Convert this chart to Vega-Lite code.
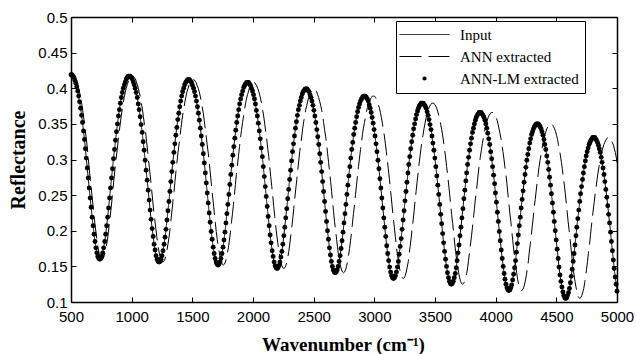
{
"$schema": "https://vega.github.io/schema/vega-lite/v6.json",
"width": 546,
"height": 285,
"autosize": {"type": "none"},
"padding": {"left": 71, "top": 17, "right": 19, "bottom": 52},
"background": "white",
"config": {"view": {"stroke": null}, "font": "Liberation Sans"},
"data": {"values": [
{"w":500,"r":0.419,"wa":513},{"w":508,"r":0.419,"wa":521},{"w":516,"r":0.417,"wa":529},{"w":524,"r":0.415,"wa":537},{"w":532,"r":0.411,"wa":546},{"w":540,"r":0.407,"wa":554},{"w":547,"r":0.402,"wa":561},{"w":555,"r":0.396,"wa":569},{"w":563,"r":0.389,"wa":577},{"w":571,"r":0.381,"wa":586},{"w":579,"r":0.372,"wa":594},{"w":587,"r":0.362,"wa":602},{"w":595,"r":0.352,"wa":610},{"w":603,"r":0.340,"wa":618},{"w":611,"r":0.328,"wa":627},{"w":619,"r":0.315,"wa":635},{"w":626,"r":0.302,"wa":642},{"w":634,"r":0.288,"wa":650},{"w":642,"r":0.274,"wa":658},{"w":650,"r":0.260,"wa":667},{"w":658,"r":0.246,"wa":675},{"w":666,"r":0.233,"wa":683},{"w":674,"r":0.219,"wa":691},{"w":682,"r":0.207,"wa":699},{"w":690,"r":0.195,"wa":708},{"w":698,"r":0.185,"wa":716},{"w":705,"r":0.176,"wa":723},{"w":713,"r":0.169,"wa":731},{"w":721,"r":0.164,"wa":739},{"w":729,"r":0.161,"wa":748},
{"w":737,"r":0.160,"wa":756},{"w":745,"r":0.161,"wa":764},{"w":753,"r":0.164,"wa":772},{"w":761,"r":0.169,"wa":780},{"w":769,"r":0.176,"wa":789},{"w":778,"r":0.185,"wa":798},{"w":786,"r":0.195,"wa":806},{"w":794,"r":0.207,"wa":814},{"w":802,"r":0.219,"wa":822},{"w":810,"r":0.232,"wa":831},{"w":818,"r":0.246,"wa":839},{"w":826,"r":0.260,"wa":847},{"w":834,"r":0.274,"wa":855},{"w":842,"r":0.287,"wa":863},{"w":850,"r":0.301,"wa":872},{"w":859,"r":0.314,"wa":881},{"w":867,"r":0.327,"wa":889},{"w":875,"r":0.339,"wa":897},{"w":883,"r":0.350,"wa":906},{"w":891,"r":0.361,"wa":914},{"w":899,"r":0.370,"wa":922},{"w":907,"r":0.379,"wa":930},{"w":915,"r":0.387,"wa":938},{"w":923,"r":0.394,"wa":947},{"w":931,"r":0.400,"wa":955},{"w":940,"r":0.405,"wa":964},{"w":948,"r":0.409,"wa":972},{"w":956,"r":0.413,"wa":980},{"w":964,"r":0.415,"wa":989},{"w":972,"r":0.417,"wa":997},
{"w":980,"r":0.417,"wa":1005},{"w":988,"r":0.417,"wa":1013},{"w":996,"r":0.415,"wa":1021},{"w":1005,"r":0.413,"wa":1031},{"w":1013,"r":0.409,"wa":1039},{"w":1021,"r":0.405,"wa":1047},{"w":1029,"r":0.400,"wa":1055},{"w":1037,"r":0.394,"wa":1063},{"w":1046,"r":0.387,"wa":1073},{"w":1054,"r":0.378,"wa":1081},{"w":1062,"r":0.370,"wa":1089},{"w":1070,"r":0.360,"wa":1097},{"w":1078,"r":0.349,"wa":1105},{"w":1087,"r":0.338,"wa":1115},{"w":1095,"r":0.325,"wa":1123},{"w":1103,"r":0.313,"wa":1131},{"w":1111,"r":0.299,"wa":1139},{"w":1119,"r":0.285,"wa":1148},{"w":1128,"r":0.271,"wa":1157},{"w":1136,"r":0.257,"wa":1165},{"w":1144,"r":0.243,"wa":1173},{"w":1152,"r":0.229,"wa":1181},{"w":1160,"r":0.216,"wa":1190},{"w":1169,"r":0.203,"wa":1199},{"w":1177,"r":0.192,"wa":1207},{"w":1185,"r":0.181,"wa":1215},{"w":1193,"r":0.173,"wa":1223},{"w":1201,"r":0.165,"wa":1232},{"w":1210,"r":0.160,"wa":1241},{"w":1218,"r":0.157,"wa":1249},
{"w":1226,"r":0.156,"wa":1257},{"w":1234,"r":0.157,"wa":1265},{"w":1242,"r":0.160,"wa":1274},{"w":1250,"r":0.165,"wa":1282},{"w":1258,"r":0.172,"wa":1290},{"w":1267,"r":0.181,"wa":1299},{"w":1275,"r":0.191,"wa":1308},{"w":1283,"r":0.202,"wa":1316},{"w":1291,"r":0.215,"wa":1324},{"w":1299,"r":0.228,"wa":1332},{"w":1307,"r":0.241,"wa":1340},{"w":1315,"r":0.255,"wa":1349},{"w":1323,"r":0.269,"wa":1357},{"w":1331,"r":0.283,"wa":1365},{"w":1339,"r":0.296,"wa":1373},{"w":1348,"r":0.310,"wa":1382},{"w":1356,"r":0.322,"wa":1391},{"w":1364,"r":0.334,"wa":1399},{"w":1372,"r":0.345,"wa":1407},{"w":1380,"r":0.356,"wa":1415},{"w":1388,"r":0.365,"wa":1423},{"w":1396,"r":0.374,"wa":1432},{"w":1404,"r":0.382,"wa":1440},{"w":1412,"r":0.389,"wa":1448},{"w":1420,"r":0.395,"wa":1456},{"w":1429,"r":0.400,"wa":1465},{"w":1437,"r":0.405,"wa":1474},{"w":1445,"r":0.408,"wa":1482},{"w":1453,"r":0.410,"wa":1490},{"w":1461,"r":0.412,"wa":1498},
{"w":1469,"r":0.412,"wa":1506},{"w":1477,"r":0.412,"wa":1515},{"w":1485,"r":0.410,"wa":1523},{"w":1493,"r":0.408,"wa":1531},{"w":1501,"r":0.404,"wa":1539},{"w":1510,"r":0.400,"wa":1549},{"w":1518,"r":0.395,"wa":1557},{"w":1526,"r":0.389,"wa":1565},{"w":1534,"r":0.382,"wa":1573},{"w":1542,"r":0.374,"wa":1581},{"w":1550,"r":0.365,"wa":1590},{"w":1558,"r":0.355,"wa":1598},{"w":1566,"r":0.344,"wa":1606},{"w":1574,"r":0.333,"wa":1614},{"w":1582,"r":0.321,"wa":1622},{"w":1591,"r":0.308,"wa":1632},{"w":1599,"r":0.295,"wa":1640},{"w":1607,"r":0.281,"wa":1648},{"w":1615,"r":0.267,"wa":1656},{"w":1623,"r":0.253,"wa":1664},{"w":1631,"r":0.239,"wa":1673},{"w":1639,"r":0.225,"wa":1681},{"w":1647,"r":0.212,"wa":1689},{"w":1655,"r":0.199,"wa":1697},{"w":1663,"r":0.188,"wa":1705},{"w":1672,"r":0.177,"wa":1715},{"w":1680,"r":0.168,"wa":1723},{"w":1688,"r":0.161,"wa":1731},{"w":1696,"r":0.156,"wa":1739},{"w":1704,"r":0.153,"wa":1747},
{"w":1712,"r":0.152,"wa":1756},{"w":1720,"r":0.153,"wa":1764},{"w":1728,"r":0.156,"wa":1772},{"w":1736,"r":0.161,"wa":1780},{"w":1744,"r":0.168,"wa":1788},{"w":1753,"r":0.177,"wa":1798},{"w":1761,"r":0.187,"wa":1806},{"w":1769,"r":0.198,"wa":1814},{"w":1777,"r":0.211,"wa":1822},{"w":1785,"r":0.224,"wa":1831},{"w":1793,"r":0.237,"wa":1839},{"w":1801,"r":0.251,"wa":1847},{"w":1809,"r":0.265,"wa":1855},{"w":1817,"r":0.279,"wa":1863},{"w":1825,"r":0.292,"wa":1872},{"w":1834,"r":0.306,"wa":1881},{"w":1842,"r":0.318,"wa":1889},{"w":1850,"r":0.330,"wa":1897},{"w":1858,"r":0.341,"wa":1905},{"w":1866,"r":0.352,"wa":1914},{"w":1874,"r":0.361,"wa":1922},{"w":1882,"r":0.370,"wa":1930},{"w":1890,"r":0.378,"wa":1938},{"w":1898,"r":0.385,"wa":1946},{"w":1906,"r":0.391,"wa":1955},{"w":1915,"r":0.396,"wa":1964},{"w":1923,"r":0.401,"wa":1972},{"w":1931,"r":0.404,"wa":1980},{"w":1939,"r":0.406,"wa":1988},{"w":1947,"r":0.408,"wa":1997},
{"w":1955,"r":0.408,"wa":2005},{"w":1963,"r":0.408,"wa":2013},{"w":1971,"r":0.406,"wa":2021},{"w":1979,"r":0.404,"wa":2029},{"w":1987,"r":0.400,"wa":2038},{"w":1996,"r":0.396,"wa":2047},{"w":2004,"r":0.391,"wa":2055},{"w":2012,"r":0.385,"wa":2063},{"w":2020,"r":0.378,"wa":2072},{"w":2028,"r":0.369,"wa":2080},{"w":2036,"r":0.361,"wa":2088},{"w":2044,"r":0.351,"wa":2096},{"w":2052,"r":0.340,"wa":2104},{"w":2060,"r":0.329,"wa":2113},{"w":2068,"r":0.316,"wa":2121},{"w":2077,"r":0.304,"wa":2130},{"w":2085,"r":0.290,"wa":2138},{"w":2093,"r":0.276,"wa":2146},{"w":2101,"r":0.262,"wa":2155},{"w":2109,"r":0.248,"wa":2163},{"w":2117,"r":0.234,"wa":2171},{"w":2125,"r":0.220,"wa":2179},{"w":2133,"r":0.207,"wa":2187},{"w":2141,"r":0.194,"wa":2196},{"w":2149,"r":0.183,"wa":2204},{"w":2158,"r":0.172,"wa":2213},{"w":2166,"r":0.164,"wa":2221},{"w":2174,"r":0.156,"wa":2229},{"w":2182,"r":0.151,"wa":2238},{"w":2190,"r":0.148,"wa":2246},
{"w":2198,"r":0.147,"wa":2254},{"w":2206,"r":0.148,"wa":2262},{"w":2214,"r":0.151,"wa":2270},{"w":2222,"r":0.156,"wa":2279},{"w":2230,"r":0.163,"wa":2287},{"w":2238,"r":0.171,"wa":2295},{"w":2246,"r":0.181,"wa":2303},{"w":2254,"r":0.193,"wa":2311},{"w":2262,"r":0.205,"wa":2320},{"w":2270,"r":0.218,"wa":2328},{"w":2278,"r":0.231,"wa":2336},{"w":2286,"r":0.245,"wa":2344},{"w":2294,"r":0.258,"wa":2352},{"w":2302,"r":0.272,"wa":2361},{"w":2310,"r":0.285,"wa":2369},{"w":2318,"r":0.298,"wa":2377},{"w":2326,"r":0.311,"wa":2385},{"w":2334,"r":0.322,"wa":2394},{"w":2342,"r":0.333,"wa":2402},{"w":2350,"r":0.344,"wa":2410},{"w":2358,"r":0.353,"wa":2418},{"w":2366,"r":0.362,"wa":2426},{"w":2374,"r":0.370,"wa":2435},{"w":2382,"r":0.376,"wa":2443},{"w":2390,"r":0.382,"wa":2451},{"w":2398,"r":0.387,"wa":2459},{"w":2406,"r":0.392,"wa":2467},{"w":2414,"r":0.395,"wa":2476},{"w":2422,"r":0.397,"wa":2484},{"w":2430,"r":0.399,"wa":2492},
{"w":2438,"r":0.399,"wa":2500},{"w":2446,"r":0.399,"wa":2508},{"w":2454,"r":0.397,"wa":2517},{"w":2462,"r":0.395,"wa":2525},{"w":2470,"r":0.391,"wa":2533},{"w":2478,"r":0.387,"wa":2541},{"w":2486,"r":0.382,"wa":2549},{"w":2494,"r":0.376,"wa":2558},{"w":2502,"r":0.369,"wa":2566},{"w":2510,"r":0.361,"wa":2574},{"w":2518,"r":0.352,"wa":2582},{"w":2526,"r":0.342,"wa":2590},{"w":2534,"r":0.332,"wa":2599},{"w":2542,"r":0.321,"wa":2607},{"w":2550,"r":0.308,"wa":2615},{"w":2558,"r":0.296,"wa":2623},{"w":2566,"r":0.283,"wa":2631},{"w":2574,"r":0.269,"wa":2640},{"w":2582,"r":0.255,"wa":2648},{"w":2590,"r":0.241,"wa":2656},{"w":2598,"r":0.227,"wa":2664},{"w":2606,"r":0.213,"wa":2672},{"w":2614,"r":0.200,"wa":2681},{"w":2622,"r":0.188,"wa":2689},{"w":2630,"r":0.176,"wa":2697},{"w":2638,"r":0.166,"wa":2705},{"w":2646,"r":0.157,"wa":2713},{"w":2654,"r":0.150,"wa":2722},{"w":2662,"r":0.145,"wa":2730},{"w":2670,"r":0.142,"wa":2738},
{"w":2678,"r":0.141,"wa":2746},{"w":2686,"r":0.142,"wa":2754},{"w":2694,"r":0.145,"wa":2763},{"w":2702,"r":0.150,"wa":2771},{"w":2710,"r":0.157,"wa":2779},{"w":2718,"r":0.165,"wa":2787},{"w":2726,"r":0.175,"wa":2796},{"w":2734,"r":0.186,"wa":2804},{"w":2742,"r":0.198,"wa":2812},{"w":2750,"r":0.211,"wa":2820},{"w":2758,"r":0.224,"wa":2828},{"w":2766,"r":0.237,"wa":2837},{"w":2774,"r":0.251,"wa":2845},{"w":2782,"r":0.264,"wa":2853},{"w":2790,"r":0.277,"wa":2861},{"w":2798,"r":0.290,"wa":2869},{"w":2806,"r":0.302,"wa":2878},{"w":2814,"r":0.314,"wa":2886},{"w":2822,"r":0.324,"wa":2894},{"w":2830,"r":0.335,"wa":2902},{"w":2838,"r":0.344,"wa":2910},{"w":2846,"r":0.352,"wa":2919},{"w":2854,"r":0.360,"wa":2927},{"w":2862,"r":0.367,"wa":2935},{"w":2870,"r":0.373,"wa":2943},{"w":2878,"r":0.378,"wa":2951},{"w":2886,"r":0.382,"wa":2960},{"w":2894,"r":0.385,"wa":2968},{"w":2902,"r":0.387,"wa":2976},{"w":2910,"r":0.389,"wa":2984},
{"w":2918,"r":0.389,"wa":2992},{"w":2926,"r":0.389,"wa":3001},{"w":2934,"r":0.387,"wa":3009},{"w":2942,"r":0.385,"wa":3017},{"w":2950,"r":0.382,"wa":3025},{"w":2958,"r":0.377,"wa":3033},{"w":2966,"r":0.372,"wa":3042},{"w":2974,"r":0.366,"wa":3050},{"w":2982,"r":0.359,"wa":3058},{"w":2990,"r":0.351,"wa":3066},{"w":2998,"r":0.342,"wa":3074},{"w":3006,"r":0.333,"wa":3083},{"w":3014,"r":0.322,"wa":3091},{"w":3022,"r":0.311,"wa":3099},{"w":3030,"r":0.299,"wa":3107},{"w":3038,"r":0.287,"wa":3115},{"w":3046,"r":0.273,"wa":3124},{"w":3054,"r":0.260,"wa":3132},{"w":3062,"r":0.246,"wa":3140},{"w":3070,"r":0.232,"wa":3148},{"w":3078,"r":0.218,"wa":3156},{"w":3086,"r":0.205,"wa":3165},{"w":3094,"r":0.192,"wa":3173},{"w":3102,"r":0.179,"wa":3181},{"w":3110,"r":0.168,"wa":3189},{"w":3118,"r":0.158,"wa":3198},{"w":3126,"r":0.149,"wa":3206},{"w":3134,"r":0.142,"wa":3214},{"w":3142,"r":0.137,"wa":3222},{"w":3150,"r":0.134,"wa":3230},
{"w":3158,"r":0.133,"wa":3239},{"w":3166,"r":0.134,"wa":3247},{"w":3174,"r":0.137,"wa":3255},{"w":3182,"r":0.142,"wa":3263},{"w":3190,"r":0.149,"wa":3271},{"w":3198,"r":0.157,"wa":3280},{"w":3205,"r":0.167,"wa":3287},{"w":3213,"r":0.178,"wa":3295},{"w":3221,"r":0.189,"wa":3303},{"w":3229,"r":0.202,"wa":3311},{"w":3237,"r":0.215,"wa":3320},{"w":3245,"r":0.228,"wa":3328},{"w":3253,"r":0.242,"wa":3336},{"w":3261,"r":0.255,"wa":3344},{"w":3269,"r":0.268,"wa":3352},{"w":3277,"r":0.281,"wa":3361},{"w":3284,"r":0.293,"wa":3368},{"w":3292,"r":0.304,"wa":3376},{"w":3300,"r":0.315,"wa":3384},{"w":3308,"r":0.325,"wa":3392},{"w":3316,"r":0.334,"wa":3401},{"w":3324,"r":0.343,"wa":3409},{"w":3332,"r":0.350,"wa":3417},{"w":3340,"r":0.357,"wa":3425},{"w":3348,"r":0.363,"wa":3433},{"w":3356,"r":0.368,"wa":3442},{"w":3363,"r":0.372,"wa":3449},{"w":3371,"r":0.375,"wa":3457},{"w":3379,"r":0.377,"wa":3465},{"w":3387,"r":0.379,"wa":3473},
{"w":3395,"r":0.379,"wa":3482},{"w":3403,"r":0.379,"wa":3490},{"w":3411,"r":0.377,"wa":3498},{"w":3419,"r":0.375,"wa":3506},{"w":3427,"r":0.372,"wa":3514},{"w":3435,"r":0.367,"wa":3523},{"w":3443,"r":0.362,"wa":3531},{"w":3451,"r":0.356,"wa":3539},{"w":3459,"r":0.349,"wa":3547},{"w":3467,"r":0.342,"wa":3555},{"w":3475,"r":0.333,"wa":3564},{"w":3483,"r":0.323,"wa":3572},{"w":3491,"r":0.313,"wa":3580},{"w":3499,"r":0.302,"wa":3588},{"w":3507,"r":0.290,"wa":3596},{"w":3515,"r":0.277,"wa":3605},{"w":3523,"r":0.264,"wa":3613},{"w":3531,"r":0.251,"wa":3621},{"w":3539,"r":0.237,"wa":3629},{"w":3547,"r":0.223,"wa":3637},{"w":3555,"r":0.210,"wa":3646},{"w":3563,"r":0.196,"wa":3654},{"w":3571,"r":0.183,"wa":3662},{"w":3579,"r":0.171,"wa":3670},{"w":3587,"r":0.160,"wa":3678},{"w":3595,"r":0.150,"wa":3687},{"w":3603,"r":0.141,"wa":3695},{"w":3611,"r":0.134,"wa":3703},{"w":3619,"r":0.129,"wa":3711},{"w":3627,"r":0.126,"wa":3719},
{"w":3635,"r":0.125,"wa":3728},{"w":3643,"r":0.126,"wa":3736},{"w":3651,"r":0.129,"wa":3744},{"w":3659,"r":0.134,"wa":3752},{"w":3667,"r":0.140,"wa":3761},{"w":3675,"r":0.148,"wa":3769},{"w":3682,"r":0.158,"wa":3776},{"w":3690,"r":0.169,"wa":3784},{"w":3698,"r":0.180,"wa":3792},{"w":3706,"r":0.193,"wa":3801},{"w":3714,"r":0.205,"wa":3809},{"w":3722,"r":0.218,"wa":3817},{"w":3730,"r":0.231,"wa":3825},{"w":3738,"r":0.245,"wa":3833},{"w":3746,"r":0.257,"wa":3842},{"w":3754,"r":0.270,"wa":3850},{"w":3761,"r":0.281,"wa":3857},{"w":3769,"r":0.293,"wa":3865},{"w":3777,"r":0.303,"wa":3873},{"w":3785,"r":0.313,"wa":3882},{"w":3793,"r":0.322,"wa":3890},{"w":3801,"r":0.330,"wa":3898},{"w":3809,"r":0.338,"wa":3906},{"w":3817,"r":0.344,"wa":3914},{"w":3825,"r":0.350,"wa":3923},{"w":3833,"r":0.355,"wa":3931},{"w":3840,"r":0.359,"wa":3938},{"w":3848,"r":0.362,"wa":3946},{"w":3856,"r":0.364,"wa":3954},{"w":3864,"r":0.366,"wa":3963},
{"w":3872,"r":0.366,"wa":3971},{"w":3880,"r":0.366,"wa":3979},{"w":3888,"r":0.364,"wa":3987},{"w":3896,"r":0.362,"wa":3995},{"w":3904,"r":0.359,"wa":4004},{"w":3912,"r":0.355,"wa":4012},{"w":3919,"r":0.350,"wa":4019},{"w":3927,"r":0.344,"wa":4027},{"w":3935,"r":0.337,"wa":4035},{"w":3943,"r":0.329,"wa":4044},{"w":3951,"r":0.321,"wa":4052},{"w":3959,"r":0.311,"wa":4060},{"w":3967,"r":0.301,"wa":4068},{"w":3975,"r":0.290,"wa":4076},{"w":3983,"r":0.278,"wa":4085},{"w":3991,"r":0.266,"wa":4093},{"w":3998,"r":0.253,"wa":4100},{"w":4006,"r":0.240,"wa":4108},{"w":4014,"r":0.226,"wa":4116},{"w":4022,"r":0.213,"wa":4125},{"w":4030,"r":0.199,"wa":4133},{"w":4038,"r":0.186,"wa":4141},{"w":4046,"r":0.173,"wa":4149},{"w":4054,"r":0.161,"wa":4157},{"w":4062,"r":0.150,"wa":4166},{"w":4070,"r":0.140,"wa":4174},{"w":4077,"r":0.132,"wa":4181},{"w":4085,"r":0.125,"wa":4189},{"w":4093,"r":0.120,"wa":4197},{"w":4101,"r":0.117,"wa":4206},
{"w":4109,"r":0.116,"wa":4214},{"w":4117,"r":0.117,"wa":4222},{"w":4125,"r":0.120,"wa":4230},{"w":4132,"r":0.124,"wa":4237},{"w":4140,"r":0.131,"wa":4246},{"w":4148,"r":0.139,"wa":4254},{"w":4156,"r":0.148,"wa":4262},{"w":4164,"r":0.158,"wa":4270},{"w":4171,"r":0.170,"wa":4277},{"w":4179,"r":0.182,"wa":4286},{"w":4187,"r":0.194,"wa":4294},{"w":4195,"r":0.207,"wa":4302},{"w":4203,"r":0.219,"wa":4310},{"w":4210,"r":0.232,"wa":4317},{"w":4218,"r":0.244,"wa":4326},{"w":4226,"r":0.256,"wa":4334},{"w":4234,"r":0.268,"wa":4342},{"w":4242,"r":0.279,"wa":4350},{"w":4249,"r":0.289,"wa":4357},{"w":4257,"r":0.299,"wa":4366},{"w":4265,"r":0.307,"wa":4374},{"w":4273,"r":0.315,"wa":4382},{"w":4281,"r":0.323,"wa":4390},{"w":4288,"r":0.329,"wa":4397},{"w":4296,"r":0.335,"wa":4406},{"w":4304,"r":0.339,"wa":4414},{"w":4312,"r":0.343,"wa":4422},{"w":4320,"r":0.346,"wa":4430},{"w":4327,"r":0.348,"wa":4437},{"w":4335,"r":0.350,"wa":4446},
{"w":4343,"r":0.350,"wa":4454},{"w":4351,"r":0.350,"wa":4462},{"w":4359,"r":0.348,"wa":4470},{"w":4366,"r":0.346,"wa":4477},{"w":4374,"r":0.343,"wa":4486},{"w":4382,"r":0.339,"wa":4494},{"w":4390,"r":0.334,"wa":4502},{"w":4398,"r":0.328,"wa":4510},{"w":4405,"r":0.321,"wa":4517},{"w":4413,"r":0.314,"wa":4526},{"w":4421,"r":0.305,"wa":4534},{"w":4429,"r":0.296,"wa":4542},{"w":4437,"r":0.286,"wa":4550},{"w":4444,"r":0.275,"wa":4557},{"w":4452,"r":0.264,"wa":4566},{"w":4460,"r":0.252,"wa":4574},{"w":4468,"r":0.239,"wa":4582},{"w":4476,"r":0.226,"wa":4590},{"w":4483,"r":0.213,"wa":4597},{"w":4491,"r":0.200,"wa":4606},{"w":4499,"r":0.187,"wa":4614},{"w":4507,"r":0.174,"wa":4622},{"w":4515,"r":0.161,"wa":4630},{"w":4522,"r":0.149,"wa":4637},{"w":4530,"r":0.138,"wa":4646},{"w":4538,"r":0.129,"wa":4654},{"w":4546,"r":0.121,"wa":4662},{"w":4554,"r":0.114,"wa":4670},{"w":4561,"r":0.109,"wa":4677},{"w":4569,"r":0.106,"wa":4686},
{"w":4577,"r":0.105,"wa":4694},{"w":4585,"r":0.106,"wa":4702},{"w":4592,"r":0.109,"wa":4709},{"w":4600,"r":0.113,"wa":4717},{"w":4608,"r":0.119,"wa":4726},{"w":4616,"r":0.127,"wa":4734},{"w":4623,"r":0.136,"wa":4741},{"w":4631,"r":0.146,"wa":4749},{"w":4639,"r":0.157,"wa":4757},{"w":4646,"r":0.168,"wa":4764},{"w":4654,"r":0.180,"wa":4773},{"w":4662,"r":0.193,"wa":4781},{"w":4669,"r":0.205,"wa":4788},{"w":4677,"r":0.217,"wa":4796},{"w":4685,"r":0.229,"wa":4804},{"w":4693,"r":0.241,"wa":4813},{"w":4700,"r":0.252,"wa":4820},{"w":4708,"r":0.262,"wa":4828},{"w":4716,"r":0.272,"wa":4836},{"w":4723,"r":0.281,"wa":4843},{"w":4731,"r":0.290,"wa":4852},{"w":4739,"r":0.298,"wa":4860},{"w":4746,"r":0.305,"wa":4867},{"w":4754,"r":0.311,"wa":4875},{"w":4762,"r":0.316,"wa":4883},{"w":4770,"r":0.321,"wa":4892},{"w":4777,"r":0.324,"wa":4899},{"w":4785,"r":0.327,"wa":4907},{"w":4793,"r":0.329,"wa":4915},{"w":4800,"r":0.331,"wa":4922},
{"w":4808,"r":0.331,"wa":4931},{"w":4816,"r":0.331,"wa":4939},{"w":4823,"r":0.329,"wa":4946},{"w":4831,"r":0.327,"wa":4954},{"w":4839,"r":0.324,"wa":4962},{"w":4847,"r":0.320,"wa":4971},{"w":4854,"r":0.315,"wa":4978},{"w":4862,"r":0.310,"wa":4986},{"w":4870,"r":0.303,"wa":4994},{"w":4877,"r":0.296,"wa":5001},{"w":4885,"r":0.288,"wa":5010},{"w":4893,"r":0.279,"wa":5018},{"w":4900,"r":0.269,"wa":5025},{"w":4908,"r":0.258,"wa":5033},{"w":4916,"r":0.247,"wa":5041},{"w":4924,"r":0.235,"wa":5050},{"w":4931,"r":0.223,"wa":5057},{"w":4939,"r":0.211,"wa":5065},{"w":4947,"r":0.198,"wa":5073},{"w":4954,"r":0.185,"wa":5080},{"w":4962,"r":0.172,"wa":5089},{"w":4970,"r":0.159,"wa":5097},{"w":4977,"r":0.147,"wa":5104},{"w":4985,"r":0.135,"wa":5112},{"w":4993,"r":0.125,"wa":5120},{"w":5000,"r":0.115,"wa":5128}
]},
"layer": [
{
"mark": {"type": "line", "color": "black", "strokeWidth": 1},
"encoding": {
"x": {"field": "w", "type": "quantitative", "scale": {"domain": [500, 5000], "nice": false, "zero": false},
"axis": {"orient": "bottom", "values": [500,1000,1500,2000,2500,3000,3500,4000,4500,5000], "format": "d", "grid": false, "title": "Wavenumber (cm⁻¹)", "tickSize": -5, "tickColor": "black", "domainColor": "black", "domainWidth": 1.5, "labelFont": "Liberation Sans", "labelFontSize": 15, "labelColor": "black", "labelPadding": 12, "labelFlush": false, "labelOverlap": false, "titleFont": "Liberation Serif", "titleFontSize": 19, "titleFontWeight": "bold", "titleColor": "black", "titleX": 272, "titleY": 48, "titleBaseline": "alphabetic"}},
"y": {"field": "r", "type": "quantitative", "scale": {"domain": [0.1, 0.5], "nice": false, "zero": false},
"axis": {"orient": "left", "values": [0.1,0.15,0.2,0.25,0.3,0.35,0.4,0.45,0.5], "format": ".2~f", "grid": false, "title": "Reflectance", "tickSize": -5, "tickColor": "black", "domainColor": "black", "domainWidth": 1.5, "labelFont": "Liberation Sans", "labelFontSize": 15, "labelColor": "black", "labelPadding": 9, "labelFlush": false, "labelOverlap": false, "titleFont": "Liberation Serif", "titleFontSize": 20, "titleFontWeight": "bold", "titleColor": "black", "titleX": -53, "titleY": 142.5, "titleBaseline": "middle"}},
"strokeDash": {"datum": "Input", "type": "nominal",
"scale": {"domain": ["Input", "ANN extracted", "ANN-LM extracted"], "range": [[1,0],[22,7],[1,0]]},
"legend": {"title": null, "orient": "none", "legendX": 325, "legendY": 4, "direction": "vertical", "strokeColor": "black", "fillColor": "white", "padding": 6, "rowPadding": 6, "labelFont": "Liberation Serif", "labelFontSize": 15, "labelColor": "black", "labelOffset": 28, "symbolOffset": 15, "labelLimit": 300, "symbolStrokeColor": "black", "symbolStrokeWidth": 1, "symbolOpacity": 1, "symbolType": "stroke",
"encode": {"symbols": {"update": {
"shape": {"signal": "datum.value === 'ANN-LM extracted' ? 'circle' : 'stroke'"},
"size": {"signal": "datum.value === 'ANN-LM extracted' ? 18 : 2500"},
"fill": {"value": "black"},
"stroke": {"value": "black"},
"strokeWidth": {"signal": "datum.value === 'ANN-LM extracted' ? 0 : 1"}
}}}}}
}
},
{
"mark": {"type": "line", "color": "black", "strokeWidth": 1, "clip": true},
"encoding": {
"x": {"field": "wa", "type": "quantitative", "scale": {"domain": [500, 5000], "nice": false, "zero": false},
"axis": {"orient": "top", "values": [500,1000,1500,2000,2500,3000,3500,4000,4500,5000], "labels": false, "title": null, "grid": false, "tickSize": -5, "tickColor": "black", "domainColor": "black", "domainWidth": 1.5}},
"y": {"field": "r", "type": "quantitative", "scale": {"domain": [0.1, 0.5], "nice": false, "zero": false},
"axis": {"orient": "right", "values": [0.1,0.15,0.2,0.25,0.3,0.35,0.4,0.45,0.5], "labels": false, "title": null, "grid": false, "tickSize": -5, "tickColor": "black", "domainColor": "black", "domainWidth": 1.5}},
"strokeDash": {"datum": "ANN extracted", "type": "nominal"}
}
},
{
"mark": {"type": "point", "filled": true, "color": "black", "size": 24, "opacity": 1},
"encoding": {
"x": {"field": "w", "type": "quantitative", "scale": {"domain": [500, 5000], "nice": false, "zero": false}, "axis": null},
"y": {"field": "r", "type": "quantitative", "scale": {"domain": [0.1, 0.5], "nice": false, "zero": false}, "axis": null},
"strokeDash": {"datum": "ANN-LM extracted", "type": "nominal"}
}
}
],
"resolve": {"axis": {"x": "independent", "y": "independent"}}
}
